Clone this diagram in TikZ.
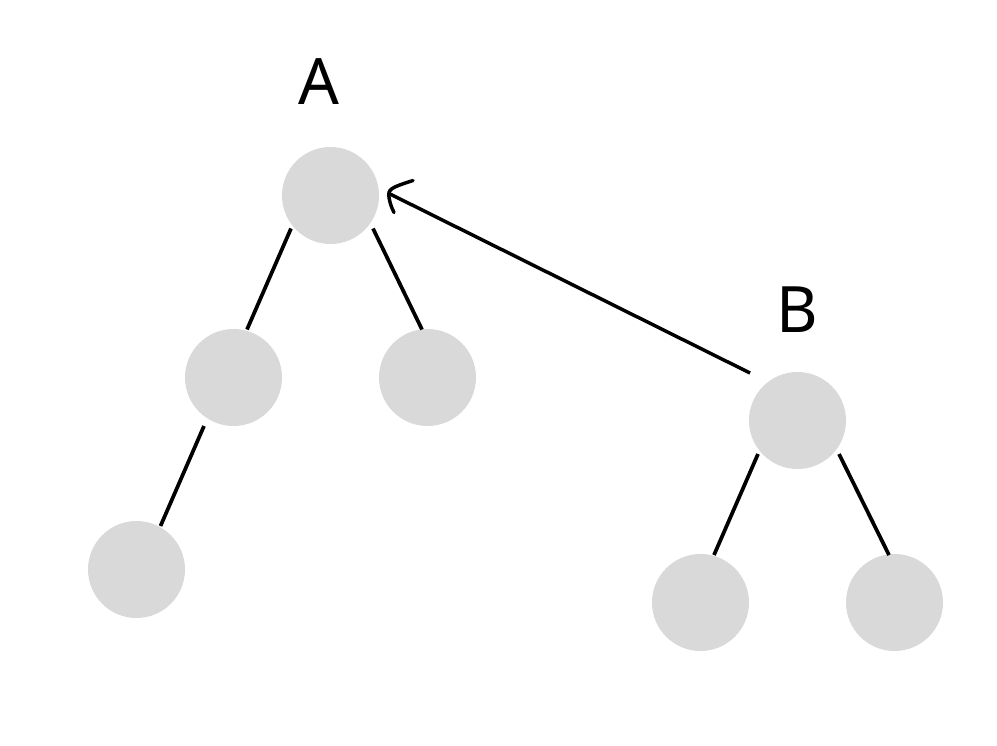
\documentclass[tikz,border=0pt]{standalone}
\usepackage{fontspec}
\setmainfont{Noto Sans}
\definecolor{nodegray}{RGB}{217,217,217}
\begin{document}
\begin{tikzpicture}[x=0.75pt,y=-0.75pt,
  treenode/.style={circle,fill=nodegray,draw=none,minimum size=72.75pt,inner sep=0pt},
  edge/.style={line width=2.8pt,line cap=butt},
  lbl/.style={anchor=base,inner sep=0pt,font=\fontsize{48}{48}\selectfont}]
\useasboundingbox (0,0) rectangle (997,746);
\node[treenode] (A) at (330.5,195.5) {};
\node[treenode] (A1) at (233.5,377.5) {};
\node[treenode] (A2) at (427.5,377.5) {};
\node[treenode] (A11) at (136.5,569.5) {};
\node[treenode] (B) at (797.5,420.5) {};
\node[treenode] (B1) at (700.5,602.5) {};
\node[treenode] (B2) at (894.5,602.5) {};
\node[lbl] (la) at (319,104) {A};
\node[lbl] (lb) at (797.5,332) {B};
% tree edges
\draw[edge] ([shift={(-39.5,33)}]A.center) -- ([shift={(13.5,-48)}]A1.center);
\draw[edge] ([shift={(42.5,33)}]A.center) -- ([shift={(-5.5,-48)}]A2.center);
\draw[edge] ([shift={(-29.5,48.5)}]A1.center) -- ([shift={(24,-43.5)}]A11.center);
\draw[edge] ([shift={(-39.5,33.5)}]B.center) -- ([shift={(13.5,-47.5)}]B1.center);
\draw[edge] ([shift={(41.5,33.5)}]B.center) -- ([shift={(-5.5,-47.5)}]B2.center);
% arrow from B to A
\coordinate (btail) at ([shift={(-47.5,-47.5)}]B.center);
\coordinate (atip) at ([shift={(58.5,-2)}]A.center);
\draw[line width=2.6pt] (btail) -- (atip);
\draw[line width=2.6pt,line cap=round,line join=round]
  ([shift={(24,-13)}]atip) .. controls ([shift={(12,-9)}]atip) and ([shift={(1,-6)}]atip) .. ([shift={(0,-1)}]atip)
  .. controls ([shift={(-1,6)}]atip) and ([shift={(3,15)}]atip) .. ([shift={(5,19)}]atip);
\end{tikzpicture}
\end{document}
